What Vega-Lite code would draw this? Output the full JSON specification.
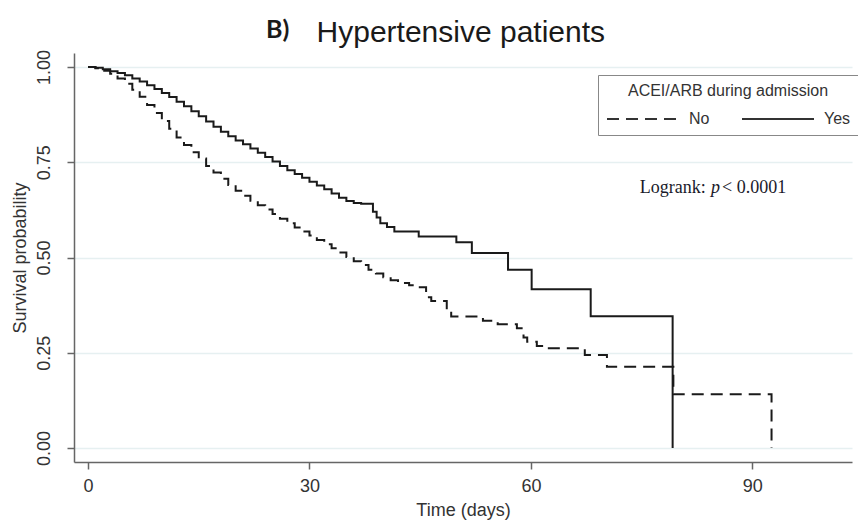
{
  "$schema": "https://vega.github.io/schema/vega-lite/v6.json",
  "width": 778,
  "height": 409,
  "autosize": {"type": "none"},
  "padding": {"left": 74, "top": 53, "right": 6, "bottom": 64},
  "background": "white",
  "config": {
    "view": {"stroke": null},
    "font": "Liberation Sans"
  },
  "layer": [
    {
      "data": {
        "values": [
          {"g": "Yes", "t": 0, "s": 1.0},
          {"g": "Yes", "t": 1, "s": 0.998},
          {"g": "Yes", "t": 2, "s": 0.994},
          {"g": "Yes", "t": 3, "s": 0.989},
          {"g": "Yes", "t": 4, "s": 0.984},
          {"g": "Yes", "t": 5, "s": 0.978},
          {"g": "Yes", "t": 6, "s": 0.970},
          {"g": "Yes", "t": 7, "s": 0.962},
          {"g": "Yes", "t": 8, "s": 0.952},
          {"g": "Yes", "t": 9, "s": 0.942},
          {"g": "Yes", "t": 10, "s": 0.932},
          {"g": "Yes", "t": 11, "s": 0.921},
          {"g": "Yes", "t": 12, "s": 0.909},
          {"g": "Yes", "t": 13, "s": 0.897},
          {"g": "Yes", "t": 14, "s": 0.884},
          {"g": "Yes", "t": 15, "s": 0.871},
          {"g": "Yes", "t": 16, "s": 0.857},
          {"g": "Yes", "t": 17, "s": 0.843},
          {"g": "Yes", "t": 18, "s": 0.830},
          {"g": "Yes", "t": 19, "s": 0.818},
          {"g": "Yes", "t": 20, "s": 0.807},
          {"g": "Yes", "t": 21, "s": 0.797},
          {"g": "Yes", "t": 22, "s": 0.786},
          {"g": "Yes", "t": 23, "s": 0.775},
          {"g": "Yes", "t": 24, "s": 0.764},
          {"g": "Yes", "t": 25, "s": 0.752},
          {"g": "Yes", "t": 26, "s": 0.740},
          {"g": "Yes", "t": 27, "s": 0.729},
          {"g": "Yes", "t": 28, "s": 0.719},
          {"g": "Yes", "t": 29, "s": 0.709},
          {"g": "Yes", "t": 30, "s": 0.699},
          {"g": "Yes", "t": 31, "s": 0.689},
          {"g": "Yes", "t": 32, "s": 0.679},
          {"g": "Yes", "t": 33, "s": 0.668},
          {"g": "Yes", "t": 34, "s": 0.657},
          {"g": "Yes", "t": 35, "s": 0.648},
          {"g": "Yes", "t": 36, "s": 0.643},
          {"g": "Yes", "t": 37, "s": 0.641},
          {"g": "Yes", "t": 38.6, "s": 0.620},
          {"g": "Yes", "t": 39.1, "s": 0.605},
          {"g": "Yes", "t": 39.6, "s": 0.590},
          {"g": "Yes", "t": 40.5, "s": 0.580},
          {"g": "Yes", "t": 41.5, "s": 0.568},
          {"g": "Yes", "t": 44.8, "s": 0.555},
          {"g": "Yes", "t": 49.9, "s": 0.540},
          {"g": "Yes", "t": 52.0, "s": 0.512},
          {"g": "Yes", "t": 56.9, "s": 0.468},
          {"g": "Yes", "t": 60.1, "s": 0.417},
          {"g": "Yes", "t": 68.1, "s": 0.346},
          {"g": "Yes", "t": 79.2, "s": 0.0},
          {"g": "No", "t": 0, "s": 1.0},
          {"g": "No", "t": 1, "s": 0.997},
          {"g": "No", "t": 2, "s": 0.990},
          {"g": "No", "t": 3, "s": 0.982},
          {"g": "No", "t": 4, "s": 0.970},
          {"g": "No", "t": 5, "s": 0.956},
          {"g": "No", "t": 6, "s": 0.940},
          {"g": "No", "t": 7, "s": 0.922},
          {"g": "No", "t": 8, "s": 0.900},
          {"g": "No", "t": 9, "s": 0.879},
          {"g": "No", "t": 10, "s": 0.858},
          {"g": "No", "t": 11, "s": 0.838},
          {"g": "No", "t": 12, "s": 0.815},
          {"g": "No", "t": 13, "s": 0.795},
          {"g": "No", "t": 14, "s": 0.776},
          {"g": "No", "t": 15, "s": 0.760},
          {"g": "No", "t": 16, "s": 0.740},
          {"g": "No", "t": 17, "s": 0.723},
          {"g": "No", "t": 18, "s": 0.707},
          {"g": "No", "t": 19, "s": 0.690},
          {"g": "No", "t": 20, "s": 0.675},
          {"g": "No", "t": 21, "s": 0.662},
          {"g": "No", "t": 22, "s": 0.649},
          {"g": "No", "t": 23, "s": 0.637},
          {"g": "No", "t": 24, "s": 0.626},
          {"g": "No", "t": 25, "s": 0.614},
          {"g": "No", "t": 26, "s": 0.602},
          {"g": "No", "t": 27, "s": 0.590},
          {"g": "No", "t": 28, "s": 0.579},
          {"g": "No", "t": 29, "s": 0.568},
          {"g": "No", "t": 30, "s": 0.558},
          {"g": "No", "t": 31, "s": 0.546},
          {"g": "No", "t": 32, "s": 0.535},
          {"g": "No", "t": 33, "s": 0.524},
          {"g": "No", "t": 34, "s": 0.513},
          {"g": "No", "t": 35, "s": 0.501},
          {"g": "No", "t": 36, "s": 0.490},
          {"g": "No", "t": 37, "s": 0.480},
          {"g": "No", "t": 38, "s": 0.468},
          {"g": "No", "t": 39, "s": 0.458},
          {"g": "No", "t": 40, "s": 0.448},
          {"g": "No", "t": 41, "s": 0.440},
          {"g": "No", "t": 42, "s": 0.433},
          {"g": "No", "t": 43.5, "s": 0.427},
          {"g": "No", "t": 44.5, "s": 0.422},
          {"g": "No", "t": 45.8, "s": 0.396},
          {"g": "No", "t": 46.5, "s": 0.386},
          {"g": "No", "t": 48.6, "s": 0.362},
          {"g": "No", "t": 49.2, "s": 0.345},
          {"g": "No", "t": 53.5, "s": 0.334},
          {"g": "No", "t": 55.5, "s": 0.325},
          {"g": "No", "t": 58.1, "s": 0.314},
          {"g": "No", "t": 59.0, "s": 0.290},
          {"g": "No", "t": 59.5, "s": 0.279},
          {"g": "No", "t": 60.8, "s": 0.268},
          {"g": "No", "t": 62.0, "s": 0.262},
          {"g": "No", "t": 67.3, "s": 0.244},
          {"g": "No", "t": 70.3, "s": 0.213},
          {"g": "No", "t": 79.3, "s": 0.141},
          {"g": "No", "t": 92.6, "s": 0.0}
        ]
      },
      "mark": {"type": "line", "interpolate": "step-after", "color": "#1a1a1a", "strokeWidth": 2, "clip": false},
      "encoding": {
        "x": {
          "field": "t", "type": "quantitative",
          "scale": {"domain": [-1.9, 103.5], "nice": false, "zero": false},
          "axis": {
            "values": [0, 30, 60, 90],
            "title": "Time (days)",
            "titleFontSize": 18, "titleFontWeight": "normal", "titleColor": "#333", "titlePadding": 6,
            "labelFontSize": 18, "labelColor": "#333", "labelPadding": 8,
            "tickSize": 7, "tickColor": "#666", "tickWidth": 1.5,
            "domainColor": "#666", "domainWidth": 1.5,
            "grid": false
          }
        },
        "y": {
          "field": "s", "type": "quantitative",
          "scale": {"domain": [-0.0367, 1.0367], "nice": false, "zero": false},
          "axis": {
            "values": [0, 0.25, 0.5, 0.75, 1],
            "format": ".2f",
            "title": "Survival probability",
            "titleFontSize": 18, "titleFontWeight": "normal", "titleColor": "#333", "titlePadding": 6,
            "labelFontSize": 18, "labelColor": "#333", "labelAngle": -90, "labelAlign": "center", "labelBaseline": "bottom", "labelPadding": 14,
            "tickSize": 7, "tickColor": "#666", "tickWidth": 1.5,
            "domainColor": "#666", "domainWidth": 1.5,
            "grid": true, "gridColor": "#e6f0f1", "gridWidth": 1.5
          }
        },
        "strokeDash": {
          "field": "g", "type": "nominal",
          "scale": {"domain": ["No", "Yes"], "range": [[12, 7], [1, 0]]},
          "legend": {
            "title": "ACEI/ARB during admission",
            "orient": "none",
            "legendX": 524,
            "legendY": 22,
            "direction": "horizontal",
            "titleAnchor": "middle",
            "titleLimit": 400,
            "titleFontSize": 16, "titleFontWeight": "normal", "titleColor": "#333", "titlePadding": 10,
            "labelFontSize": 16, "labelColor": "#333", "labelOffset": 63,
            "symbolType": "M-1,0L7,0", "symbolSize": 324, "symbolStrokeWidth": 2, "symbolStrokeColor": "#333",
            "columnPadding": 28,
            "padding": 8,
            "strokeColor": "#888",
            "fillColor": "white"
          }
        }
      }
    },
    {
      "data": {"values": [{"label": "Hypertensive patients", "t": 50.5, "s": 1.089}]},
      "mark": {"type": "text", "font": "Liberation Sans", "fontSize": 30, "color": "#1a1a1a", "align": "center", "baseline": "middle", "clip": false},
      "encoding": {
        "x": {"field": "t", "type": "quantitative"},
        "y": {"field": "s", "type": "quantitative"},
        "text": {"field": "label"}
      }
    },
    {
      "data": {"values": [{"label": "B)", "t": 25.7, "s": 1.097}]},
      "mark": {"type": "text", "font": "Lato", "fontWeight": "bold", "fontSize": 25, "color": "#1a1a1a", "align": "center", "baseline": "middle", "clip": false},
      "encoding": {
        "x": {"field": "t", "type": "quantitative"},
        "y": {"field": "s", "type": "quantitative"},
        "text": {"field": "label"}
      }
    },
    {
      "data": {"values": [{"label": "Logrank:", "t": 83.7, "s": 0.683}]},
      "mark": {"type": "text", "font": "Liberation Serif", "fontSize": 18, "color": "#1a1a2a", "align": "right", "baseline": "middle"},
      "encoding": {
        "x": {"field": "t", "type": "quantitative"},
        "y": {"field": "s", "type": "quantitative"},
        "text": {"field": "label"}
      }
    },
    {
      "data": {"values": [{"label": "p", "t": 85.0, "s": 0.683}]},
      "mark": {"type": "text", "font": "Liberation Serif", "fontStyle": "italic", "fontSize": 18, "color": "#1a1a2a", "align": "center", "baseline": "middle"},
      "encoding": {
        "x": {"field": "t", "type": "quantitative"},
        "y": {"field": "s", "type": "quantitative"},
        "text": {"field": "label"}
      }
    },
    {
      "data": {"values": [{"label": "< 0.0001", "t": 85.9, "s": 0.683}]},
      "mark": {"type": "text", "font": "Liberation Serif", "fontSize": 18, "color": "#1a1a2a", "align": "left", "baseline": "middle"},
      "encoding": {
        "x": {"field": "t", "type": "quantitative"},
        "y": {"field": "s", "type": "quantitative"},
        "text": {"field": "label"}
      }
    }
  ]
}
